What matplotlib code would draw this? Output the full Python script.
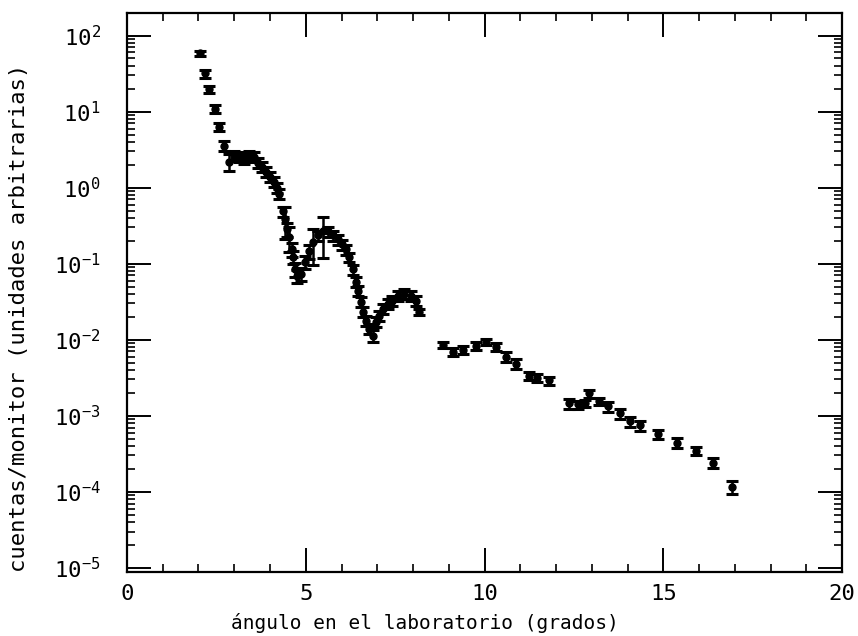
import numpy as np
import matplotlib
matplotlib.use('Agg')
import matplotlib.pyplot as plt
from matplotlib.ticker import FixedLocator, MultipleLocator, NullFormatter, LogFormatterSciNotation


# Data
angle = np.array([2.04, 2.18, 2.29, 2.46, 2.57, 2.71, 2.85, 2.99, 3.13, 3.27,
                  3.41, 3.55, 3.66, 3.77, 3.88, 3.99, 4.11, 4.19, 4.25, 4.36,
                  4.41, 4.47, 4.53, 4.61, 4.64, 4.69, 4.75, 4.86, 4.97, 5.08,
                  5.20, 5.34, 5.47, 5.61, 5.75, 5.89, 6.01, 6.12, 6.20, 6.31,
                  6.40, 6.45, 6.54, 6.59, 6.68, 6.76, 6.87, 6.96, 7.04, 7.15,
                  7.29, 7.40, 7.57, 7.74, 7.93, 8.07, 8.18,
                  8.83, 9.13, 9.41, 9.75, 10.03, 10.31, 10.61, 10.89, 11.23,
                  11.48, 11.79, 12.35, 12.60, 12.82, 12.91, 13.21, 13.44,
                  13.80, 14.08, 14.36, 14.86, 15.39, 15.92, 16.40, 16.93])
counts = np.array([58.2, 31.9, 19.7, 10.8, 6.27, 3.54, 2.19, 2.62, 2.54, 2.39,
                   2.62, 2.54, 2.12, 1.88, 1.62, 1.39, 1.20, 1.00, 0.835, 0.486,
                   0.382, 0.282, 0.222, 0.155, 0.122, 0.0847, 0.0687, 0.0729, 0.105, 0.146,
                   0.191, 0.236, 0.266, 0.266, 0.236, 0.209, 0.180, 0.155, 0.122, 0.0847,
                   0.0573, 0.0437, 0.0314, 0.0232, 0.0177, 0.0139, 0.0113, 0.0172, 0.0206, 0.0254,
                   0.0296, 0.0324, 0.0376, 0.0399, 0.0376, 0.0324, 0.0232,
                   0.00861, 0.00697, 0.00740, 0.00835, 0.00942, 0.00810, 0.00600, 0.00486, 0.00338,
                   0.00318, 0.00291, 0.00146, 0.00141, 0.00146, 0.00197, 0.00155, 0.00133,
                   0.00108, 0.000848, 0.000751, 0.000573, 0.000437, 0.000344, 0.000239, 0.000116])
rel_err = np.array([0.08, 0.12, 0.10, 0.12, 0.12, 0.15, 0.25, 0.15, 0.15, 0.15,
                    0.15, 0.15, 0.15, 0.15, 0.15, 0.15, 0.15, 0.15, 0.15, 0.15,
                    0.45, 0.20, 0.35, 0.20, 0.20, 0.20, 0.20, 0.20, 0.20, 0.20,
                    0.50, 0.15, 0.55, 0.15, 0.15, 0.15, 0.15, 0.15, 0.15, 0.15,
                    0.15, 0.15, 0.15, 0.15, 0.15, 0.15, 0.18, 0.15, 0.15, 0.15,
                    0.15, 0.15, 0.15, 0.15, 0.15, 0.15, 0.10,
                    0.10, 0.12, 0.12, 0.12, 0.10, 0.12, 0.15, 0.15, 0.12,
                    0.12, 0.12, 0.15, 0.12, 0.12, 0.12, 0.12, 0.15,
                    0.15, 0.15, 0.15, 0.15, 0.15, 0.12, 0.15, 0.20])
decades = [1e-5, 1e-4, 1e-3, 1e-2, 1e-1, 1e0, 1e1, 1e2]

plt.rcParams['font.family'] = 'DejaVu Sans Mono'
plt.rcParams['mathtext.default'] = 'regular'

fig = plt.figure(figsize=(8.58, 6.36), dpi=100)
ax = fig.add_axes([0.148, 0.1, 0.8335, 0.88])

ax.errorbar(angle, counts, yerr=counts * rel_err, fmt='o', ms=5, color='black',
            ecolor='black', elinewidth=1.8, capsize=4.5, capthick=2.2)

ax.set_yscale('log')
ax.set_xlim(0, 20)
ax.set_ylim(8.7e-6, 2e2)

ax.xaxis.set_major_locator(MultipleLocator(5))
ax.xaxis.set_minor_locator(MultipleLocator(1))
ax.yaxis.set_major_locator(FixedLocator(decades))
ax.yaxis.set_major_formatter(LogFormatterSciNotation())
minor = [m * d for d in decades[:-1] for m in range(2, 10)] + [2e2]
ax.yaxis.set_minor_locator(FixedLocator([v for v in minor if v < 2e2]))
ax.yaxis.set_minor_formatter(NullFormatter())

ax.tick_params(which='both', direction='in', top=True, right=True, colors='black')
ax.tick_params(which='major', length=17, width=1.4, labelsize=16)
ax.tick_params(which='minor', length=6, width=1.2)
ax.tick_params(axis='x', pad=8)
ax.tick_params(axis='y', pad=19)
for s in ax.spines.values():
    s.set_linewidth(1.6)

ax.set_xlabel('ángulo en el laboratorio (grados)', fontsize=14)
ax.xaxis.set_label_coords(0.417, -0.072)
ax.set_ylabel('cuentas/monitor (unidades arbitrarias)', fontsize=16)
ax.yaxis.set_label_coords(-0.137, 0.455)

fig.savefig('out.png', dpi=100)
